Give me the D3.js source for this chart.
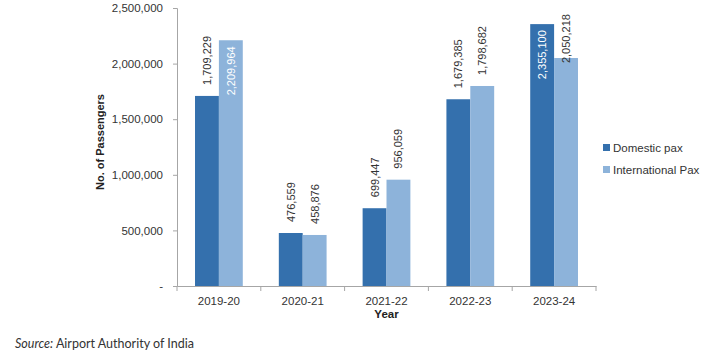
<!DOCTYPE html>
<html><head><meta charset="utf-8">
<script src="https://cdn.jsdelivr.net/npm/d3@7"></script>
<style>body{margin:0;background:#fff}svg{display:block}</style>
</head><body><div id="c"></div>
<script>
const categories = ["2019-20","2020-21","2021-22","2022-23","2023-24"];
const domestic = [1709229,476559,699447,1679385,2355100];
const international = [2209964,458876,956059,1798682,2050218];
const seriesNames = ["Domestic pax","International Pax"];
const yTicks = [0,500000,1000000,1500000,2000000,2500000];

const W=712,H=359;
const colors=["#3470ad","#8db3da"];
const m={l:177,r:116,t:8,b:73};
const svg=d3.select("#c").append("svg").attr("width",W).attr("height",H);
const font="'Liberation Sans', Arial, sans-serif";

const x=d3.scaleBand().domain(categories).range([m.l,W-m.r]).paddingInner(0.43).paddingOuter(0.215);
const x1=d3.scaleBand().domain([0,1]).range([0,x.bandwidth()]);
const y=d3.scaleLinear().domain([0,2500000]).range([H-m.b,m.t]);

// y axis
const fmt=d3.format(",");
const ya=svg.append("g").attr("transform",`translate(${m.l},0)`)
  .call(d3.axisLeft(y).tickValues(yTicks).tickSize(4).tickPadding(10).tickFormat(d=>d===0?"-":fmt(d)));
ya.select(".domain").attr("stroke","#a6a6a6");
ya.selectAll(".tick line").attr("stroke","#a6a6a6");
ya.selectAll("text").attr("font-family",font).attr("font-size","11.5px").attr("fill","#333");

// x axis
const xa=svg.append("g").attr("transform",`translate(0,${H-m.b})`)
  .call(d3.axisBottom(x).tickSize(0).tickPadding(10.5));
xa.select(".domain").attr("stroke","#a6a6a6");
xa.selectAll("text").attr("font-family",font).attr("font-size","11.5px").attr("fill","#333");
// category boundary ticks
const step=x.step(), start=x.range()[0];
xa.selectAll(".bt").data(d3.range(categories.length+1)).enter().append("line")
  .attr("x1",i=>start+i*step).attr("x2",i=>start+i*step).attr("y1",0).attr("y2",5).attr("stroke","#a6a6a6");

// bars
const rows=categories.map((c,i)=>({c,vals:[domestic[i],international[i]]}));
const g=svg.append("g");
rows.forEach(r=>{
  r.vals.forEach((v,j)=>{
    const bx=x(r.c)+x1(j), bw=x1.bandwidth();
    g.append("rect").attr("x",bx).attr("y",y(v)).attr("width",bw).attr("height",y(0)-y(v)).attr("fill",colors[j]);
    const label=fmt(v);
    const tlen=label.length*5.45;
    let yEnd=y(v)-11, yStart=yEnd-tlen, fill="#333";
    if(yStart< -10){ yStart=y(v)+6; yEnd=yStart+tlen; fill="#fff"; }
    else if(yStart<14){ yStart=14; yEnd=yStart+tlen; }
    g.append("text").attr("transform",`translate(${bx+bw/2+4},${yEnd}) rotate(-90)`)
      .attr("font-family",font).attr("font-size","11px").attr("fill",fill).text(label);
  });
});

// axis titles
svg.append("text").attr("transform",`translate(104,${(m.t+H-m.b)/2-5}) rotate(-90)`).attr("text-anchor","middle")
  .attr("font-family",font).attr("font-size","11px").attr("font-weight","bold").attr("fill","#222").text("No. of Passengers");
svg.append("text").attr("x",(m.l+W-m.r)/2).attr("y",318).attr("text-anchor","middle")
  .attr("font-family",font).attr("font-size","11.5px").attr("font-weight","bold").attr("fill","#222").text("Year");

// legend
const lg=svg.append("g");
seriesNames.forEach((s,i)=>{
  lg.append("rect").attr("x",603).attr("y",144+i*22).attr("width",7).attr("height",7).attr("fill",colors[i]);
  lg.append("text").attr("x",613).attr("y",152+i*22).attr("font-family",font).attr("font-size","11.5px").attr("fill","#333").text(s);
});

// source
const st=svg.append("text").attr("x",15).attr("y",348).attr("font-family","Lato, sans-serif").attr("font-size","12.5px").attr("fill","#333");
st.append("tspan").attr("font-style","italic").text("Source:");
st.append("tspan").text(" Airport Authority of India");
</script></body></html>
